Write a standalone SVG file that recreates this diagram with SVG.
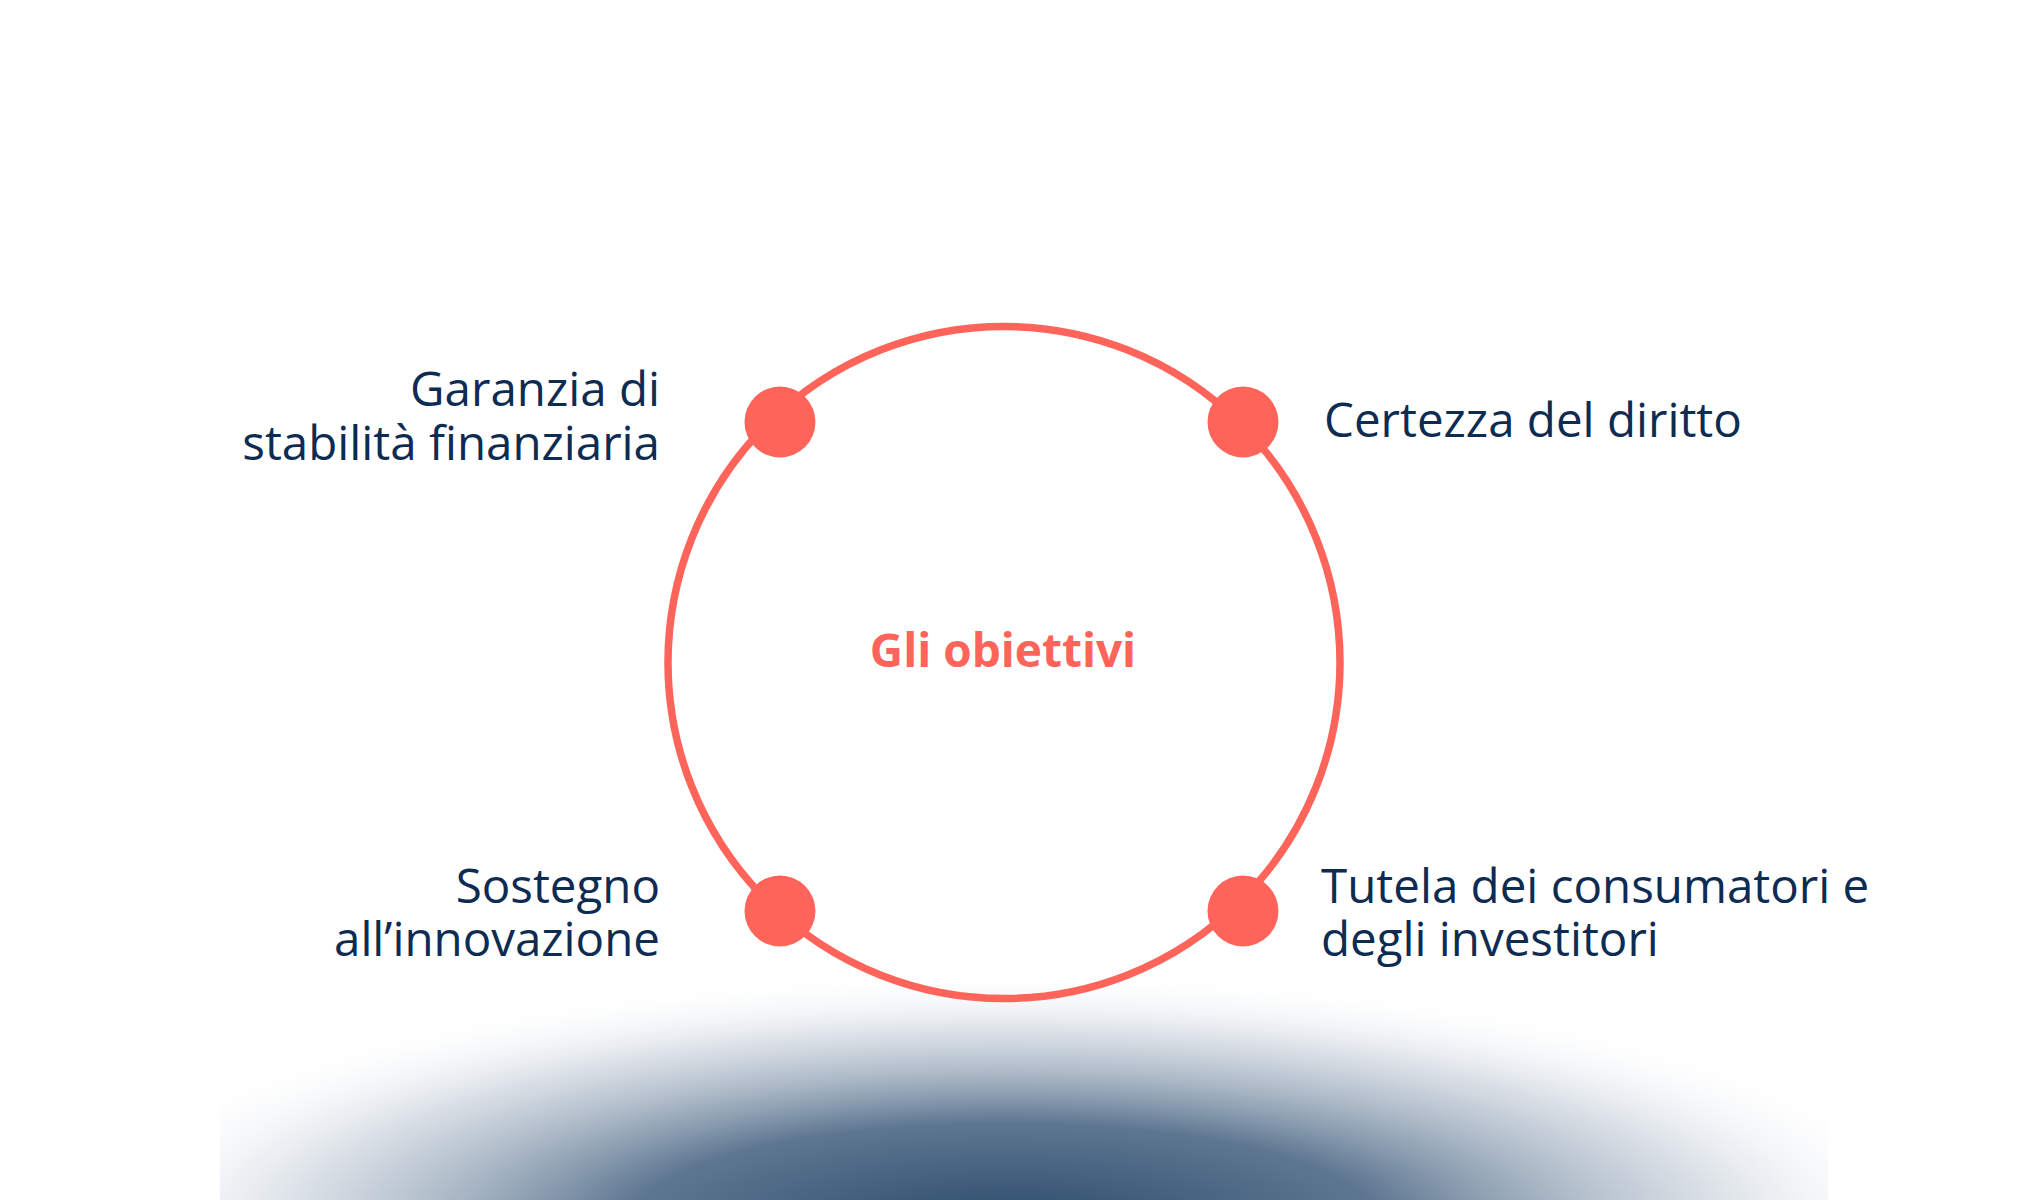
<svg xmlns="http://www.w3.org/2000/svg" width="2040" height="1200" viewBox="0 0 2040 1200">
<defs>
<radialGradient id="glow" gradientUnits="userSpaceOnUse" cx="1005" cy="1225" r="255" gradientTransform="translate(1005 1225) scale(3.7 1) translate(-1005 -1225)">
<stop offset="0" stop-color="#2a4a6c" stop-opacity="1"/>
<stop offset="0.4" stop-color="#3a5878" stop-opacity="0.82"/>
<stop offset="0.75" stop-color="#7e93aa" stop-opacity="0.3"/>
<stop offset="1" stop-color="#ffffff" stop-opacity="0"/>
</radialGradient>
<style>
.lbl{font-family:"Open Sans","Liberation Sans",sans-serif;font-size:47.5px;fill:#0e2b52;}
.title{font-family:"Open Sans","Liberation Sans",sans-serif;font-size:46px;font-weight:700;fill:#ff645a;}
.dot{fill:#ff645a;}
.ring{fill:none;stroke:#ff645a;stroke-width:7.5;}
</style>
</defs>
<rect width="2040" height="1200" fill="#ffffff"/>
<rect id="glow-area" x="220" y="960" width="1608" height="240" fill="url(#glow)"/>
<g id="connectors">
<circle class="ring" cx="1004" cy="662.5" r="336"/>
</g>
<g id="center">
<text class="title" x="1003" y="667" text-anchor="middle">Gli obiettivi</text>
</g>
<g id="node-stabilita">
<circle class="dot" cx="780" cy="422" r="35.5"/>
<text class="lbl" x="660" y="406" text-anchor="end">Garanzia di</text>
<text class="lbl" x="660" y="460" text-anchor="end">stabilità finanziaria</text>
</g>
<g id="node-certezza">
<circle class="dot" cx="1243" cy="422" r="35.5"/>
<text class="lbl" x="1324" y="437">Certezza del diritto</text>
</g>
<g id="node-innovazione">
<circle class="dot" cx="780" cy="911" r="35.5"/>
<text class="lbl" x="660" y="903" text-anchor="end">Sostegno</text>
<text class="lbl" x="660" y="956" text-anchor="end">all’innovazione</text>
</g>
<g id="node-tutela">
<circle class="dot" cx="1243" cy="911" r="35.5"/>
<text class="lbl" x="1321" y="903">Tutela dei consumatori e</text>
<text class="lbl" x="1321" y="956">degli investitori</text>
</g>
</svg>
